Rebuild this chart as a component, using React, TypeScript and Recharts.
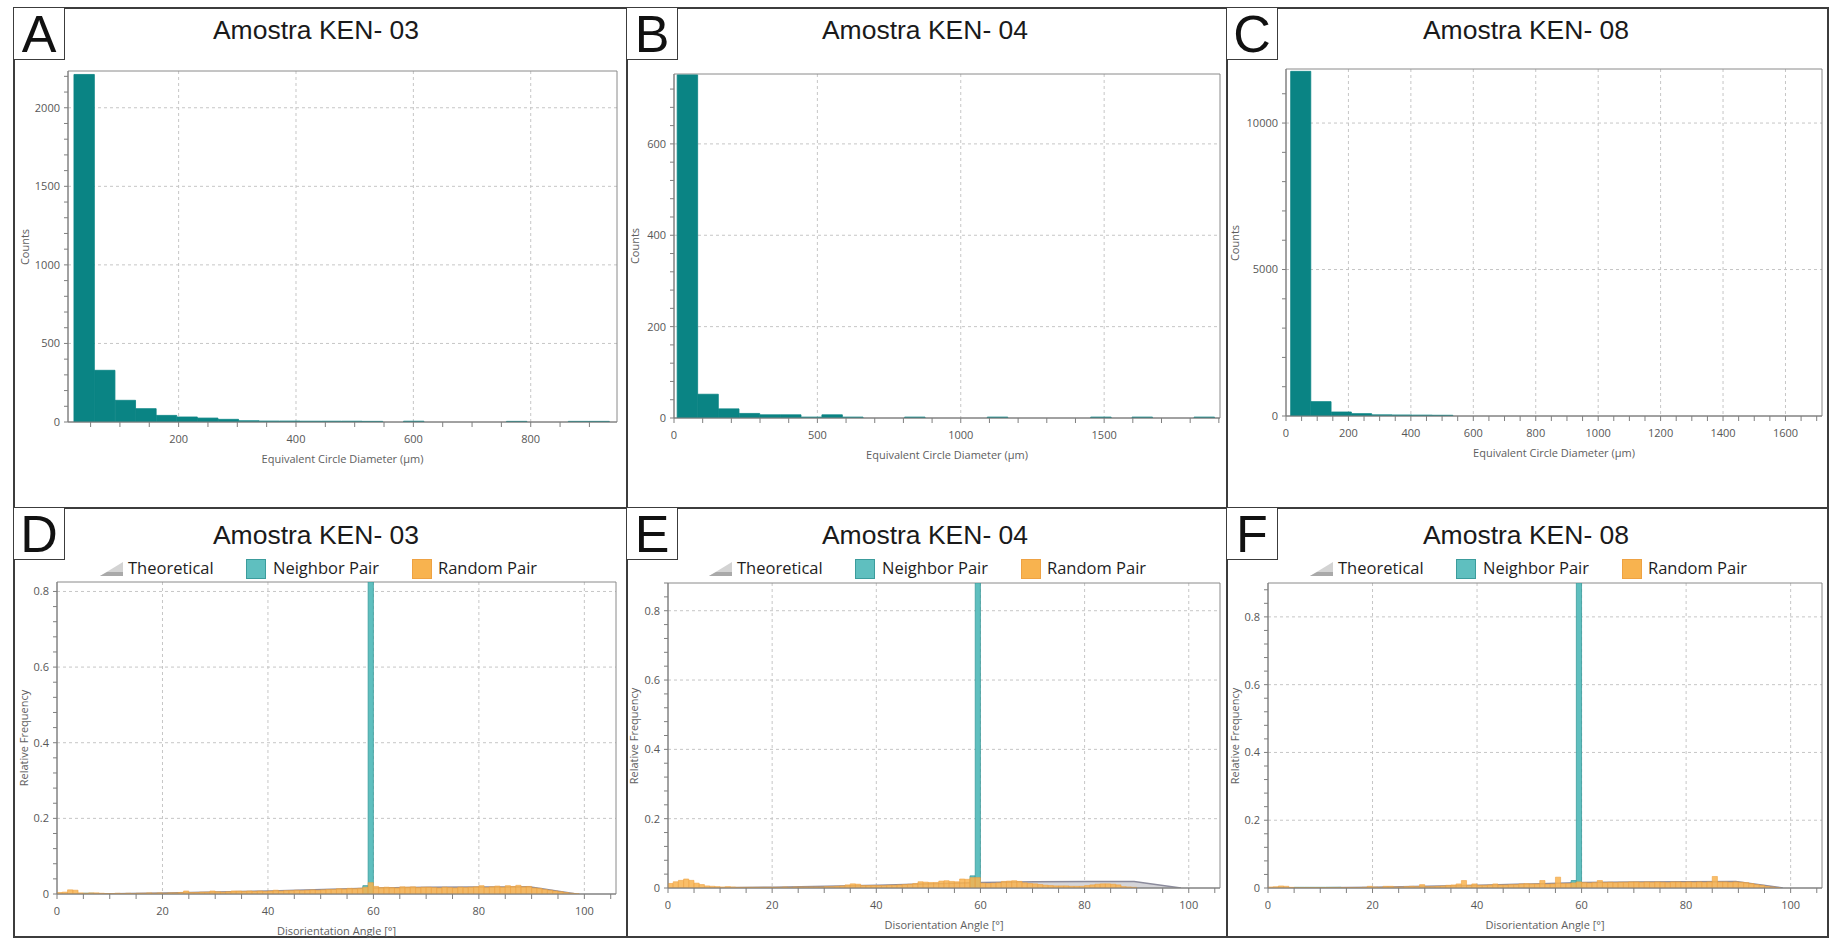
import React from 'react';
import { ComposedChart, Bar, Area, XAxis, YAxis, CartesianGrid, ReferenceArea } from 'recharts';

const UI_FONT = '"Open Sans", "Noto Sans", sans-serif';
const TITLE_FONT = '"Liberation Sans", Arial, sans-serif';

// grain size (equivalent circle diameter) histograms, top row
const ECD_A_BINS = [39.2, 74.3, 109.4, 144.5, 179.6, 214.7, 249.8, 284.9, 320.0, 355.1, 390.2, 425.3, 460.4, 495.5, 530.6, 565.7, 600.8, 635.9, 671.0, 706.1, 741.2, 776.3, 811.4, 846.5, 881.6, 916.7];
const ECD_A_COUNTS = [2212, 329, 138, 85, 42, 32, 25, 17, 8, 6, 6, 5, 5, 5, 4, 0, 5, 0, 0, 0, 0, 4, 0, 0, 4, 4];

const ECD_B_BINS = [47.1, 119.2, 191.3, 263.4, 335.5, 407.6, 479.7, 551.8, 623.9, 696.0, 768.1, 840.2, 912.3, 984.4, 1056.5, 1128.6, 1200.7, 1272.8, 1344.9, 1417.0, 1489.1, 1561.2, 1633.3, 1705.4, 1777.5, 1849.6];
const ECD_B_COUNTS = [751, 52, 20, 10, 7, 7, 2, 7, 2, 0, 0, 2, 0, 0, 0, 2, 0, 0, 0, 0, 2, 0, 2, 0, 0, 2];

const ECD_C_BINS = [47.5, 112.5, 177.5, 242.5, 307.5, 372.5, 437.5, 502.5];
const ECD_C_COUNTS = [11765, 490, 137, 80, 40, 35, 30, 25];

// disorientation angle distributions, bottom row (1 degree bins, 0..104)
const ANGLE_BINS = Array.from({ length: 105 }, (_, i) => i + 0.5);

const THEO_BINS = [0, 10, 20, 30, 40, 50, 60, 70, 80, 89, 98];
const THEO_VALUES = [0, 0.0008, 0.0025, 0.005, 0.008, 0.012, 0.016, 0.018, 0.0185, 0.019, 0];

const RANDOM_D = [
  0.004, 0.005, 0.011, 0.010, 0.003, 0.002, 0.003, 0.003, 0.002, 0.001,
  0.001, 0.002, 0.001, 0.002, 0.001, 0.002, 0.002, 0.003, 0.002, 0.003,
  0.002, 0.003, 0.003, 0.004, 0.008, 0.004, 0.004, 0.005, 0.005, 0.008,
  0.006, 0.005, 0.006, 0.008, 0.008, 0.007, 0.008, 0.007, 0.008, 0.007,
  0.008, 0.010, 0.008, 0.009, 0.009, 0.010, 0.009, 0.010, 0.011, 0.010,
  0.011, 0.012, 0.012, 0.014, 0.013, 0.015, 0.014, 0.015, 0.018, 0.030,
  0.020, 0.017, 0.018, 0.017, 0.016, 0.019, 0.018, 0.019, 0.017, 0.018,
  0.018, 0.017, 0.016, 0.018, 0.017, 0.016, 0.018, 0.017, 0.018, 0.019,
  0.022, 0.017, 0.019, 0.021, 0.018, 0.022, 0.020, 0.023, 0.019, 0.020,
  0.016, 0.015, 0.012, 0.010, 0.008, 0.006, 0.004, 0.002, 0.001, 0,
  0, 0, 0, 0, 0,
];
const NEIGHBOR_D_BINS = [5, 6, 58, 59];
const NEIGHBOR_D_VALUES = [0.002, 0.002, 0.022, 0.825];

const RANDOM_E = [
  0.013, 0.018, 0.022, 0.026, 0.022, 0.014, 0.010, 0.006, 0.005, 0.004,
  0.003, 0.004, 0.003, 0.002, 0.002, 0.002, 0.002, 0.002, 0.002, 0.002,
  0.002, 0.002, 0.003, 0.002, 0.003, 0.003, 0.003, 0.003, 0.003, 0.003,
  0.004, 0.004, 0.005, 0.006, 0.009, 0.012, 0.011, 0.007, 0.007, 0.007,
  0.007, 0.007, 0.008, 0.008, 0.009, 0.010, 0.011, 0.013, 0.018, 0.017,
  0.016, 0.016, 0.020, 0.021, 0.019, 0.018, 0.026, 0.025, 0.030, 0.030,
  0.014, 0.013, 0.014, 0.015, 0.019, 0.020, 0.021, 0.019, 0.015, 0.013,
  0.012, 0.010, 0.008, 0.007, 0.006, 0.006, 0.006, 0.005, 0.005, 0.005,
  0.007, 0.009, 0.011, 0.012, 0.012, 0.011, 0.009, 0.004, 0.003, 0.002,
  0, 0, 0, 0, 0, 0, 0, 0, 0, 0,
  0, 0, 0, 0, 0,
];
const NEIGHBOR_E_BINS = [58, 59];
const NEIGHBOR_E_VALUES = [0.035, 0.88];

const RANDOM_F = [
  0.003, 0.004, 0.006, 0.005, 0.002, 0.001, 0.001, 0.001, 0.001, 0.001,
  0.001, 0.001, 0.001, 0.001, 0.001, 0.001, 0.001, 0.001, 0.002, 0.005,
  0.003, 0.002, 0.005, 0.005, 0.003, 0.003, 0.004, 0.005, 0.004, 0.010,
  0.004, 0.004, 0.005, 0.006, 0.008, 0.009, 0.012, 0.022, 0.008, 0.012,
  0.008, 0.008, 0.009, 0.012, 0.009, 0.009, 0.010, 0.010, 0.012, 0.013,
  0.012, 0.012, 0.022, 0.011, 0.012, 0.032, 0.013, 0.013, 0.015, 0.018,
  0.016, 0.015, 0.016, 0.022, 0.016, 0.017, 0.016, 0.017, 0.017, 0.018,
  0.018, 0.017, 0.018, 0.017, 0.018, 0.017, 0.016, 0.018, 0.018, 0.017,
  0.018, 0.017, 0.018, 0.017, 0.018, 0.034, 0.018, 0.018, 0.017, 0.018,
  0.017, 0.016, 0.013, 0.010, 0.008, 0.005, 0.003, 0.001, 0, 0,
  0, 0, 0, 0, 0,
];
const NEIGHBOR_F_BINS = [5, 6, 7, 8, 9, 10, 11, 12, 13, 58, 59];
const NEIGHBOR_F_VALUES = [0.002, 0.002, 0.002, 0.002, 0.002, 0.002, 0.002, 0.002, 0.002, 0.022, 0.9];

const TEAL = '#0a8484';
const NB_FILL = '#5fbfbf';
const NB_STROKE = '#3b9c9c';
const RP_FILL = '#f8b34f';
const RP_STROKE = '#eea243';
const AXIS = '#7f7f7f';
const GRID = '#c6c6c6';
const BORDER = '#3c3c3c';

const range = (a: number, b: number, s: number) => {
  const out: number[] = [];
  for (let v = a; v <= b + 1e-9; v += s) out.push(Math.round(v * 1e6) / 1e6);
  return out;
};
const isStep = (v: number, step: number) => Math.abs(v / step - Math.round(v / step)) < 1e-6;

type Rect = { left: number; top: number; right: number; bottom: number };

const YW = 50;
const XH = 30;
const MT = 6;
const MR = 6;

const boxOf = (r: Rect) => ({
  left: r.left - YW,
  top: r.top - MT,
  width: r.right - r.left + YW + MR,
  height: r.bottom - r.top + MT + XH,
});

const tickStyle = { fill: '#575757', fontSize: 11, fontFamily: UI_FONT };

const AxisTitles = ({ rect, x, y, yLabelX }: { rect: Rect; x: string; y: string; yLabelX: number }) => (
  <>
    <div
      style={{
        position: 'absolute',
        left: (rect.left + rect.right) / 2,
        top: rect.bottom + 36,
        transform: 'translate(-50%, -50%)',
        fontFamily: UI_FONT,
        fontSize: 11,
        color: '#5e5e5e',
        whiteSpace: 'nowrap',
      }}
    >
      {x}
    </div>
    <div
      style={{
        position: 'absolute',
        left: yLabelX,
        top: (rect.top + rect.bottom) / 2,
        transform: 'translate(-50%, -50%) rotate(-90deg)',
        fontFamily: UI_FONT,
        fontSize: 11,
        color: '#5e5e5e',
        whiteSpace: 'nowrap',
      }}
    >
      {y}
    </div>
  </>
);

type HistProps = {
  rect: Rect;
  bins: number[];
  counts: number[];
  binWidth: number;
  xDomain: [number, number];
  xTicks: number[];
  xStep: number;
  yDomain: [number, number];
  yTicks: number[];
  yStep: number;
  yLabelX: number;
};

const SizeHistogram = ({ rect, bins, counts, binWidth, xDomain, xTicks, xStep, yDomain, yTicks, yStep, yLabelX }: HistProps) => {
  const data = bins.map((x, i) => ({ x, count: counts[i] || null }));
  const box = boxOf(rect);
  // slightly under the band so recharts does not shrink the bars to 90%
  const barPx = ((binWidth * (rect.right - rect.left)) / (xDomain[1] - xDomain[0])) * 0.99;
  const vGrid = xTicks.filter((t) => isStep(t, xStep) && t > xDomain[0] && t < xDomain[1]);
  const hGrid = yTicks.filter((t) => isStep(t, yStep) && t > yDomain[0] && t < yDomain[1]);
  return (
    <>
      <div style={{ position: 'absolute', ...box }}>
        <ComposedChart width={box.width} height={box.height} data={data} margin={{ top: MT, right: MR, bottom: 0, left: 0 }} barGap={0} barCategoryGap={0}>
          <CartesianGrid strokeDasharray="3 3" stroke={GRID} verticalValues={vGrid} horizontalValues={hGrid} />
          <XAxis
            dataKey="x"
            type="number"
            domain={xDomain}
            ticks={xTicks}
            interval={0}
            allowDataOverflow
            height={XH}
            tickSize={5}
            tickMargin={8}
            stroke={AXIS}
            tick={tickStyle}
            tickFormatter={(v: number) => (isStep(v, xStep) ? String(v) : '')}
          />
          <YAxis
            type="number"
            domain={yDomain}
            ticks={yTicks}
            interval={0}
            allowDataOverflow
            width={YW}
            tickSize={4}
            tickMargin={4}
            stroke={AXIS}
            tick={tickStyle}
            tickFormatter={(v: number) => (isStep(v, yStep) ? String(v) : '')}
          />
          <Bar dataKey="count" fill={TEAL} stroke={TEAL} strokeWidth={0.8} barSize={barPx} isAnimationActive={false} />
          <ReferenceArea x1={xDomain[0]} x2={xDomain[1]} y1={yDomain[0]} y2={yDomain[1]} fill="none" stroke="#8a8a8a" ifOverflow="visible" />
        </ComposedChart>
      </div>
      <AxisTitles rect={rect} x="Equivalent Circle Diameter (µm)" y="Counts" yLabelX={yLabelX} />
    </>
  );
};

const ANGLE_DOMAIN: [number, number] = [0, 106];
const ANGLE_TICKS = range(0, 105, 5);

type MisProps = {
  rect: Rect;
  random: number[];
  nbBins: number[];
  nbValues: number[];
  yMax: number;
  yLabelX: number;
};

const fmtFreq = (v: number) => (isStep(v, 0.2) ? (Math.abs(v) < 1e-9 ? '0' : String(Number(v.toFixed(1)))) : '');

const MisorientationChart = ({ rect, random, nbBins, nbValues, yMax, yLabelX }: MisProps) => {
  const data = ANGLE_BINS.map((x, i) => {
    const ni = nbBins.indexOf(i);
    const ti = THEO_BINS.indexOf(i);
    return {
      x,
      random: random[i] || null,
      neighbor: ni >= 0 ? nbValues[ni] : null,
      theoretical: ti >= 0 ? THEO_VALUES[ti] : null,
    };
  });
  const box = boxOf(rect);
  const barPx = ((rect.right - rect.left) / (ANGLE_DOMAIN[1] - ANGLE_DOMAIN[0])) * 0.99;
  const yTicks = range(0, yMax, 0.04);
  return (
    <>
      <div style={{ position: 'absolute', ...box }}>
        <ComposedChart width={box.width} height={box.height} data={data} margin={{ top: MT, right: MR, bottom: 0, left: 0 }} barGap={0} barCategoryGap={0}>
          <CartesianGrid strokeDasharray="3 3" stroke={GRID} verticalValues={[20, 40, 60, 80, 100]} horizontalValues={[0.2, 0.4, 0.6, 0.8]} />
          <XAxis
            dataKey="x"
            type="number"
            domain={ANGLE_DOMAIN}
            ticks={ANGLE_TICKS}
            interval={0}
            allowDataOverflow
            height={XH}
            tickSize={5}
            tickMargin={8}
            stroke={AXIS}
            tick={tickStyle}
            tickFormatter={(v: number) => (isStep(v, 20) ? String(v) : '')}
          />
          <XAxis xAxisId="nb" dataKey="x" type="number" domain={ANGLE_DOMAIN} allowDataOverflow hide />
          <YAxis
            type="number"
            domain={[0, yMax]}
            ticks={yTicks}
            interval={0}
            allowDataOverflow
            width={YW}
            tickSize={4}
            tickMargin={4}
            stroke={AXIS}
            tick={tickStyle}
            tickFormatter={fmtFreq}
          />
          <Area
            dataKey="theoretical"
            type="linear"
            connectNulls
            fill="#d5d5d9"
            fillOpacity={1}
            stroke="#8b8b9c"
            strokeWidth={1.5}
            dot={false}
            activeDot={false}
            isAnimationActive={false}
          />
          <Bar dataKey="neighbor" xAxisId="nb" fill={NB_FILL} stroke={NB_STROKE} strokeWidth={0.8} barSize={barPx} isAnimationActive={false} />
          <Bar dataKey="random" fill={RP_FILL} fillOpacity={0.85} stroke={RP_STROKE} strokeWidth={0.6} barSize={barPx} isAnimationActive={false} />
          <ReferenceArea x1={ANGLE_DOMAIN[0]} x2={ANGLE_DOMAIN[1]} y1={0} y2={yMax} fill="none" stroke="#8a8a8a" ifOverflow="visible" />
        </ComposedChart>
      </div>
      <AxisTitles rect={rect} x="Disorientation Angle [°]" y="Relative Frequency" yLabelX={yLabelX} />
    </>
  );
};

const Legend = ({ cx, cy }: { cx: number; cy: number }) => {
  const text = { position: 'absolute' as const, top: 0, fontFamily: UI_FONT, fontSize: 16.5, color: '#1e1e1e', lineHeight: '22px', whiteSpace: 'nowrap' as const };
  return (
    <div style={{ position: 'absolute', left: cx - 216, top: cy - 11, height: 22, width: 440 }}>
      <svg style={{ position: 'absolute', left: 0, top: 4 }} width={23} height={16}>
        <polygon points="0,15 23,15 23,1" fill="#d3d3d3" />
        <polygon points="0,15 23,15 23,11 7,11" fill="#a9a9a9" />
      </svg>
      <span style={{ ...text, left: 28 }}>Theoretical</span>
      <div style={{ position: 'absolute', left: 146, top: 2, width: 18, height: 18, background: NB_FILL, border: `1px solid ${NB_STROKE}` }} />
      <span style={{ ...text, left: 173 }}>Neighbor Pair</span>
      <div style={{ position: 'absolute', left: 312, top: 2, width: 18, height: 18, background: RP_FILL, border: `1px solid ${RP_STROKE}` }} />
      <span style={{ ...text, left: 338 }}>Random Pair</span>
    </div>
  );
};

const Title = ({ cx, cy, text }: { cx: number; cy: number; text: string }) => (
  <div
    style={{
      position: 'absolute',
      left: cx,
      top: cy,
      transform: 'translate(-50%, -50%)',
      fontFamily: TITLE_FONT,
      fontSize: 26.5,
      color: '#1a1a1a',
      whiteSpace: 'nowrap',
    }}
  >
    {text}
  </div>
);

const Letter = ({ x, y, ch }: { x: number; y: number; ch: string }) => (
  <div
    style={{
      position: 'absolute',
      left: x,
      top: y,
      width: 52,
      height: 53,
      boxSizing: 'border-box',
      border: `1.5px solid ${BORDER}`,
      background: '#fff',
      fontFamily: TITLE_FONT,
      fontSize: 52,
      lineHeight: '52px',
      textAlign: 'center',
      color: '#111',
    }}
  >
    {ch}
  </div>
);

const Line = ({ x, y, w, h }: { x: number; y: number; w: number; h: number }) => (
  <div style={{ position: 'absolute', left: x, top: y, width: w, height: h, background: BORDER }} />
);

const App = () => (
  <div style={{ position: 'absolute', left: 0, top: 0, width: 1830, height: 939, background: '#fff', overflow: 'hidden' }}>
    {/* panel frame */}
    <Line x={13} y={7} w={1816} h={1.5} />
    <Line x={13} y={936} w={1816} h={1.5} />
    <Line x={13} y={7} w={1.5} h={930} />
    <Line x={1827} y={7} w={1.5} h={930} />
    <Line x={626} y={7} w={1.5} h={930} />
    <Line x={1226} y={7} w={1.5} h={930} />
    <Line x={13} y={507} w={1816} h={1.5} />

    <SizeHistogram
      rect={{ left: 68, top: 71, right: 617, bottom: 422 }}
      bins={ECD_A_BINS}
      counts={ECD_A_COUNTS}
      binWidth={35.1}
      xDomain={[11.5, 947]}
      xTicks={range(50, 900, 50)}
      xStep={200}
      yDomain={[0, 2234]}
      yTicks={range(0, 2200, 100)}
      yStep={500}
      yLabelX={24}
    />
    <SizeHistogram
      rect={{ left: 674, top: 74, right: 1220, bottom: 418 }}
      bins={ECD_B_BINS}
      counts={ECD_B_COUNTS}
      binWidth={72.1}
      xDomain={[0, 1904]}
      xTicks={range(0, 1900, 100)}
      xStep={500}
      yDomain={[0, 753]}
      yTicks={range(0, 720, 40)}
      yStep={200}
      yLabelX={634}
    />
    <SizeHistogram
      rect={{ left: 1286, top: 69, right: 1822, bottom: 416 }}
      bins={ECD_C_BINS}
      counts={ECD_C_COUNTS}
      binWidth={65}
      xDomain={[0, 1717]}
      xTicks={range(0, 1700, 50)}
      xStep={200}
      yDomain={[0, 11845]}
      yTicks={range(0, 11000, 1000)}
      yStep={5000}
      yLabelX={1234}
    />

    <MisorientationChart
      rect={{ left: 57, top: 582, right: 616, bottom: 894 }}
      random={RANDOM_D}
      nbBins={NEIGHBOR_D_BINS}
      nbValues={NEIGHBOR_D_VALUES}
      yMax={0.825}
      yLabelX={23}
    />
    <MisorientationChart
      rect={{ left: 668, top: 583, right: 1220, bottom: 888 }}
      random={RANDOM_E}
      nbBins={NEIGHBOR_E_BINS}
      nbValues={NEIGHBOR_E_VALUES}
      yMax={0.88}
      yLabelX={633}
    />
    <MisorientationChart
      rect={{ left: 1268, top: 583, right: 1822, bottom: 888 }}
      random={RANDOM_F}
      nbBins={NEIGHBOR_F_BINS}
      nbValues={NEIGHBOR_F_VALUES}
      yMax={0.9}
      yLabelX={1234}
    />

    <Title cx={316} cy={30} text="Amostra KEN- 03" />
    <Title cx={925} cy={30} text="Amostra KEN- 04" />
    <Title cx={1526} cy={30} text="Amostra KEN- 08" />
    <Title cx={316} cy={535} text="Amostra KEN- 03" />
    <Title cx={925} cy={535} text="Amostra KEN- 04" />
    <Title cx={1526} cy={535} text="Amostra KEN- 08" />

    <Legend cx={316} cy={568} />
    <Legend cx={925} cy={568} />
    <Legend cx={1526} cy={568} />

    <Letter x={13} y={7} ch="A" />
    <Letter x={626} y={7} ch="B" />
    <Letter x={1226} y={7} ch="C" />
    <Letter x={13} y={507} ch="D" />
    <Letter x={626} y={507} ch="E" />
    <Letter x={1226} y={507} ch="F" />
  </div>
);

export default App;
